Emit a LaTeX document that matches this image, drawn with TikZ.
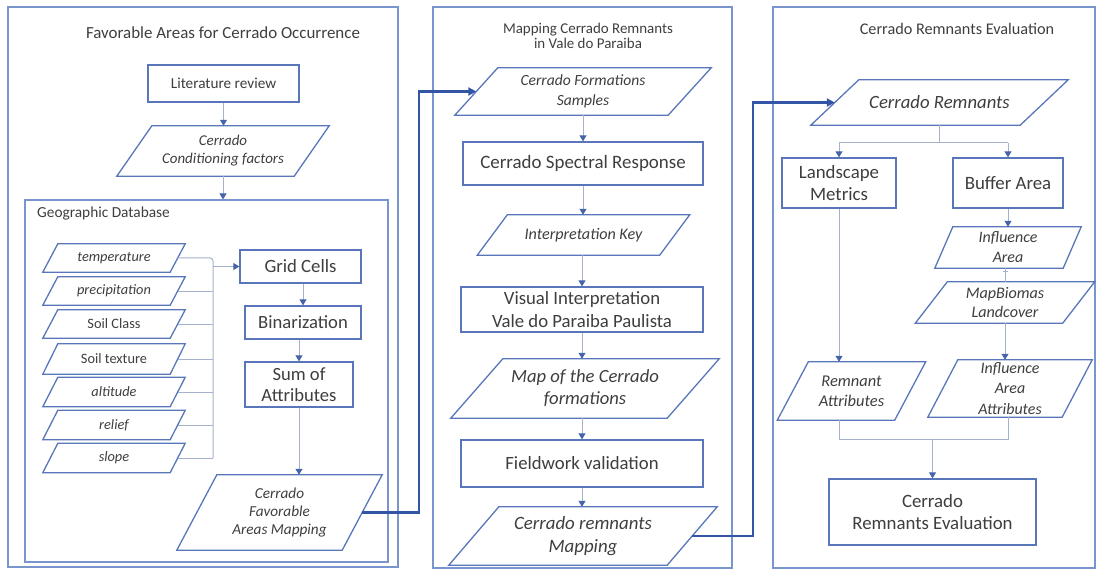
\documentclass[tikz,border=0pt]{standalone}
\usepackage{fontspec}
\setmainfont{Carlito}
\usetikzlibrary{arrows.meta}
\definecolor{panelc}{RGB}{120,150,205}
\definecolor{boxc}{RGB}{88,118,185}
\definecolor{connc}{RGB}{165,178,205}
\definecolor{thickc}{RGB}{50,85,165}
\definecolor{arrowc}{RGB}{70,100,170}
\definecolor{txtc}{RGB}{62,62,62}
\tikzset{
  panel/.style={draw=panelc, line width=1.1bp, inner sep=0pt},
  rbox/.style={draw=boxc, line width=1.3bp, fill=white, inner sep=0pt, align=center, text=txtc},
  pnode/.style={inner sep=0pt, align=center, text=txtc},
  pbox/.style={draw=boxc, line width=1.3bp},
  ttl/.style={text=txtc, inner sep=0pt, align=center},
  conn/.style={draw=connc, line width=1bp},
  arr/.style={-{Triangle[length=6bp,width=7bp,color=arrowc]}},
  bigc/.style={draw=thickc, line width=2.2bp, -{Triangle[length=8bp,width=8bp,color=thickc]}},
}
\newcommand\pgram[9]{%
  \node[pnode, minimum width=#4bp, minimum height=#5bp, font=\fontsize{#7}{#8}\selectfont\itshape] (#1) at (#2,#3) {#9};
  \draw[pbox] ([xshift=#6*0.5bp]#1.north west) -- ([xshift=#6*0.5bp]#1.north east) -- ([xshift=-#6*0.5bp]#1.south east) -- ([xshift=-#6*0.5bp]#1.south west) -- cycle;
}
\begin{document}
\begin{tikzpicture}[x=1bp, y=-1bp]
\useasboundingbox (0,0) rectangle (1100,572);
% panels
\node[panel, minimum width=390bp, minimum height=560bp] (p1) at (203,287) {};
\node[panel, minimum width=299bp, minimum height=561bp] (p2) at (582.5,287.5) {};
\node[panel, minimum width=322bp, minimum height=561bp] (p3) at (934,287.5) {};
\node[panel, minimum width=363bp, minimum height=362bp] (geo) at (206.5,381) {};
% titles
\node[ttl, font=\fontsize{17}{18}\selectfont] (t1) at (223,33) {Favorable Areas for Cerrado Occurrence};
\node[ttl, font=\fontsize{15}{15.5}\selectfont] (t2) at (588,36) {Mapping Cerrado Remnants\\in Vale do Paraiba};
\node[ttl, font=\fontsize{16.3}{18}\selectfont] (t3) at (957,29) {Cerrado Remnants Evaluation};
\node[ttl, font=\fontsize{15.4}{17}\selectfont, anchor=west] (t4) at (37,213) {Geographic Database};

% panel 1
\node[rbox, minimum width=151bp, minimum height=37bp, font=\fontsize{15.3}{17}\selectfont] (lit) at (223.5,83.5) {Literature review};
\pgram{cond}{223}{151}{177}{50}{35}{15}{18}{Cerrado\\Conditioning factors}
\pgram{te}{114}{258}{127}{28}{15}{14.4}{16}{temperature}
\pgram{pr}{114}{291}{127}{28}{15}{14.4}{16}{precipitation}
\pgram{sc}{114}{324}{127}{28}{15}{14.4}{16}{\upshape Soil Class}
\pgram{st}{114}{359}{127}{30}{15}{14.4}{16}{\upshape Soil texture}
\pgram{al}{114}{392}{127}{29}{15}{14.4}{16}{altitude}
\pgram{re}{114}{425}{127}{29}{15}{14.4}{16}{relief}
\pgram{sl}{114}{458}{127}{29}{15}{14.4}{16}{slope}
\node[rbox, minimum width=121bp, minimum height=33bp, font=\fontsize{18.8}{21}\selectfont] (gc) at (300.5,266.5) {Grid Cells};
\node[rbox, minimum width=116bp, minimum height=33bp, font=\fontsize{18.7}{21}\selectfont] (bin) at (303,322.5) {Binarization};
\node[rbox, minimum width=108bp, minimum height=45bp, font=\fontsize{18.7}{21}\selectfont] (sum) at (299,384.5) {Sum of\\Attributes};
\pgram{fav}{279.5}{512.5}{165}{75}{40}{15.3}{18.5}{Cerrado\\Favorable\\Areas Mapping}

% panel 2
\pgram{samp}{583}{91.5}{213}{47}{43}{15.6}{20}{Cerrado Formations\\Samples}
\node[rbox, minimum width=240bp, minimum height=43bp, font=\fontsize{19}{21}\selectfont] (spec) at (583,163.5) {Cerrado Spectral Response};
\pgram{key}{583.5}{235}{182}{40}{30}{16.2}{18}{Interpretation Key}
\node[rbox, minimum width=242bp, minimum height=45bp, font=\fontsize{18.8}{23}\selectfont] (vis) at (582,309.5) {Visual Interpretation\\Vale do Paraiba Paulista};
\pgram{map}{585}{388.5}{216}{59}{52}{18.7}{22}{Map of the Cerrado\\formations}
\node[rbox, minimum width=242bp, minimum height=47bp, font=\fontsize{18.8}{21}\selectfont] (fw) at (582,463.5) {Fieldwork validation};
\pgram{rem}{583}{536}{218}{58}{50}{18.9}{23}{Cerrado remnants\\Mapping}

% panel 3
\pgram{cr}{939.5}{102.5}{209}{45}{48}{18.8}{21}{Cerrado Remnants}
\node[rbox, minimum width=114bp, minimum height=50bp, font=\fontsize{18.9}{22}\selectfont] (lm) at (839,183) {Landscape\\Metrics};
\node[rbox, minimum width=110bp, minimum height=50bp, font=\fontsize{18.9}{21}\selectfont] (buf) at (1008,183) {Buffer Area};
\pgram{ia}{1008}{247.5}{128}{41}{18}{16}{20}{Influence\\Area}
\pgram{mb}{1005}{302.5}{147}{41}{32}{16.2}{20}{MapBiomas\\Landcover}
\pgram{ra}{851.5}{391}{117}{58}{31}{16.5}{20}{Remnant\\Attributes}
\pgram{iaa}{1010}{388.5}{134}{57}{30}{16}{20.5}{Influence\\Area\\Attributes}
\node[rbox, minimum width=207bp, minimum height=66bp, font=\fontsize{18.9}{23}\selectfont] (ev) at (932.5,512) {Cerrado\\Remnants Evaluation};

% connectors panel 1
\draw[conn, arr] (lit.south) -- (lit.south |- cond.north);
\draw[conn, arr] (cond.south) -- (cond.south |- geo.north);
\coordinate (bus) at (213,0);
\draw[conn, rounded corners=3bp] (te.east) -- (te.east -| bus) -- (sl.east -| bus);
\foreach \n in {pr,sc,st,al,re,sl} \draw[conn] (\n.east) -- (\n.east -| bus);
\draw[conn, arr] (gc.west -| bus) -- (gc.west);
\draw[conn, arr] (gc.south -| bin.north) -- (bin.north);
\draw[conn, arr] (bin.south -| sum.north) -- (sum.north);
\draw[conn, arr] (sum.south) -- (sum.south |- fav.north);
% connectors panel 2
\draw[conn, arr] (samp.south) -- (samp.south |- spec.north);
\draw[conn, arr] (spec.south) -- (spec.south |- key.north);
\draw[conn, arr] (key.south -| vis.north) -- (vis.north);
\draw[conn, arr] (vis.south) -- (vis.south |- map.north);
\draw[conn, arr] (map.south -| fw.north) -- (fw.north);
\draw[conn, arr] (fw.south) -- (fw.south |- rem.north);
% big connectors
\coordinate (j1) at (419,0);
\coordinate (j2) at (753,0);
\draw[bigc] (fav.east) -| (j1 |- samp.west) -- (samp.west);
\draw[bigc] (rem.east) -| (j2 |- cr.west) -- (cr.west);
% connectors panel 3
\coordinate (split) at (0,143);
\draw[conn] (cr.south) -- (cr.south |- split);
\draw[conn] (lm.north |- split) -- (buf.north |- split);
\draw[conn, arr] (lm.north |- split) -- (lm.north);
\draw[conn, arr] (buf.north |- split) -- (buf.north);
\draw[conn, arr] (buf.south) -- (buf.south |- ia.north);
\draw[conn] (ia.south -| mb.north) -- (mb.north);
\draw[conn] ([xshift=-2.5bp, yshift=-3bp]ia.south -| mb.north) -- ([xshift=2.5bp, yshift=-3bp]ia.south -| mb.north);
\draw[conn, arr] (mb.south) -- (mb.south |- iaa.north);
\draw[conn, arr] (lm.south) -- (lm.south |- ra.north);
\coordinate (merge) at (0,439);
\draw[conn] (lm.south |- ra.south) -- (lm.south |- merge) -- (buf.south |- merge) -- (buf.south |- iaa.south);
\draw[conn, arr] (ev.north |- merge) -- (ev.north);
\end{tikzpicture}
\end{document}
